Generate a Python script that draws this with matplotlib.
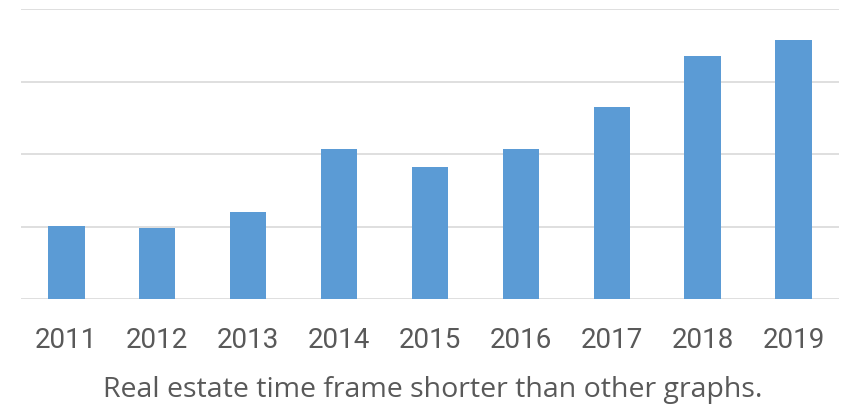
import matplotlib.pyplot as plt

# Real estate values by year (axis has no labels, read off gridlines 0..4)
years = ['2011', '2012', '2013', '2014', '2015', '2016', '2017', '2018', '2019']
values = [1.01, 0.99, 1.21, 2.07, 1.82, 2.08, 2.65, 3.36, 3.58]
caption = 'Real estate time frame shorter than other graphs.'

plt.rcParams['font.family'] = ['Roboto', 'DejaVu Sans']

fig = plt.figure(figsize=(8.56, 4.07), dpi=100)
ax = fig.add_axes([0.0245, 0.2646, 0.9555, 0.7124])

ax.bar(range(len(years)), values, width=0.4, color='#5B9BD5', zorder=3)

ax.set_xlim(-0.5, len(years) - 0.5)
ax.set_ylim(0, 4)
ax.set_yticks([0, 1, 2, 3, 4])
ax.yaxis.grid(True, color='#d9d9d9', linewidth=1.2, zorder=0)
ax.tick_params(axis='y', left=False, labelleft=False)
ax.set_xticks(range(len(years)))
ax.set_xticklabels(years, fontsize=20, color='#595959')
ax.tick_params(axis='x', length=0, pad=20)
for s in ax.spines.values():
    s.set_visible(False)

fig.text(0.506, 0.024, caption, ha='center', va='baseline',
         fontsize=20.5, color='#595959', family=['Open Sans', 'DejaVu Sans'])

fig.savefig('out.png', dpi=100)
